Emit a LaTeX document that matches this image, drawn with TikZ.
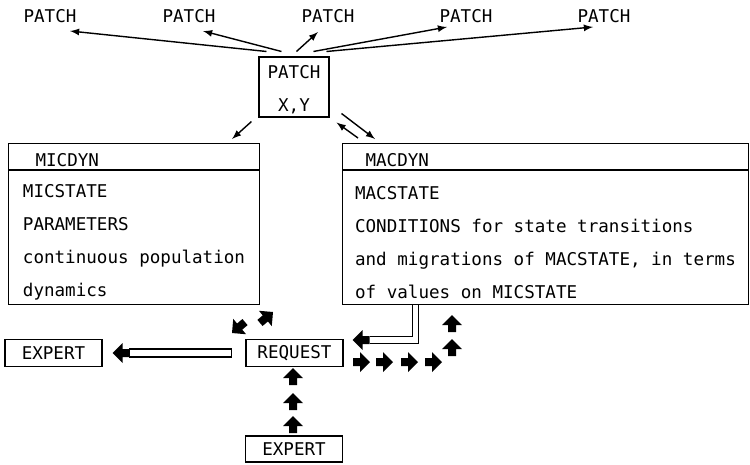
\documentclass[tikz,border=0pt]{standalone}
\usepackage{fontspec}
\setmonofont{DejaVu Sans Mono}
\usetikzlibrary{calc}
\tikzset{
    box/.style={draw, line width=.6pt, inner sep=0pt, font=\ttfamily\fontsize{10pt}{18.8pt}\selectfont},
    hollow/.style={double, line width=.6pt, double distance=3pt},
    blockarrow/.pic={\fill (0,0)--(-10,-10)--(-10,-4)--(-17,-4)--(-17,4)--(-10,4)--(-10,10)--cycle;}
}
\begin{document}
\begin{tikzpicture}[>=latex, x=.02cm, y=-.02cm, line width=.8pt]
\useasboundingbox (0,0) rectangle (750,464);
% the patch and its neighbours
\node[box, minimum width=1.4cm, minimum height=1.2cm, align=center] (patch) at (294,87) {\rule{0pt}{11pt}PATCH\\X,Y};
\foreach \i/\x in {1/50,2/189,3/328,4/466,5/604}
{
    \node[font=\ttfamily] (p\i) at (\x,16) {PATCH};
}
\foreach \i/\sx/\dx/\dy in {1/8/20/15,2/23/14/15,3/38/-10/16,4/55/-19/11,5/68/-11/11}
{
    \draw[->] ($(patch.north west)+(\sx,-5)$)--($(p\i)+(\dx,\dy)$);
}
% micro and macro dynamics
\node[box, anchor=north west, text width=5.02cm, minimum height=.52cm, align=left] (mich) at (8,143) {\rule{0pt}{11pt}\hspace*{.54cm}MICDYN};
\node[box, anchor=north, minimum width=5.02cm, minimum height=2.68cm, align=left] (micb) at (mich.south)
    {\rule{0pt}{13pt}MICSTATE\\PARAMETERS\\continuous population\\dynamics};
\node[box, anchor=north west, text width=8.12cm, minimum height=.52cm, align=left] (mach) at (342,143) {\rule{0pt}{11pt}\hspace*{.46cm}MACDYN};
\node[box, anchor=north, minimum width=8.12cm, minimum height=2.68cm, align=left] (macb) at (mach.south)
    {\rule{0pt}{13pt}MACSTATE\\CONDITIONS for state transitions\\and migrations of MACSTATE, in terms\\of values on MICSTATE};
\draw[->] ($(patch.south west)+(-7,4)$)--($(mich.north east)+(-28,-4)$);
\draw[->] ($(patch.south east)+(12,-4)$)--($(mach.north west)+(33,-4)$);
\draw[->] ($(mach.north west)+(16,-5)$)--($(patch.south east)+(7,5)$);
% requests to the experts
\node[box, minimum width=1.94cm, minimum height=.54cm] (expertL) at (53.5,353) {EXPERT};
\node[box, minimum width=1.94cm, minimum height=.54cm] (request) at (294.5,353) {REQUEST};
\node[box, minimum width=1.94cm, minimum height=.52cm] (expertB) at (294,449) {EXPERT};
\draw[line width=.6pt] ($(request.west)+(-14,-4)$) rectangle ($(expertL.east)+(27,4)$);
\pic[rotate=180] at ($(expertL.east)+(10,0)$) {blockarrow};
\draw[hollow] ($(macb.south west)+(73.5,0)$) |- ($(request.east)+(26,-13)$);
\pic[rotate=180] at ($(request.east)+(9,-13)$) {blockarrow};
\foreach \y in {368,393,416}
{
    \pic[rotate=90] at (293,\y) {blockarrow};
}
\foreach \x in {370,393,418,442}
{
    \pic at (\x,362) {blockarrow};
}
\foreach \y in {315,339}
{
    \pic[rotate=90] at (452,\y) {blockarrow};
}
\pic[rotate=220] at (232,333) {blockarrow};
\pic[rotate=40] at (273,312) {blockarrow};
\end{tikzpicture}
\end{document}
